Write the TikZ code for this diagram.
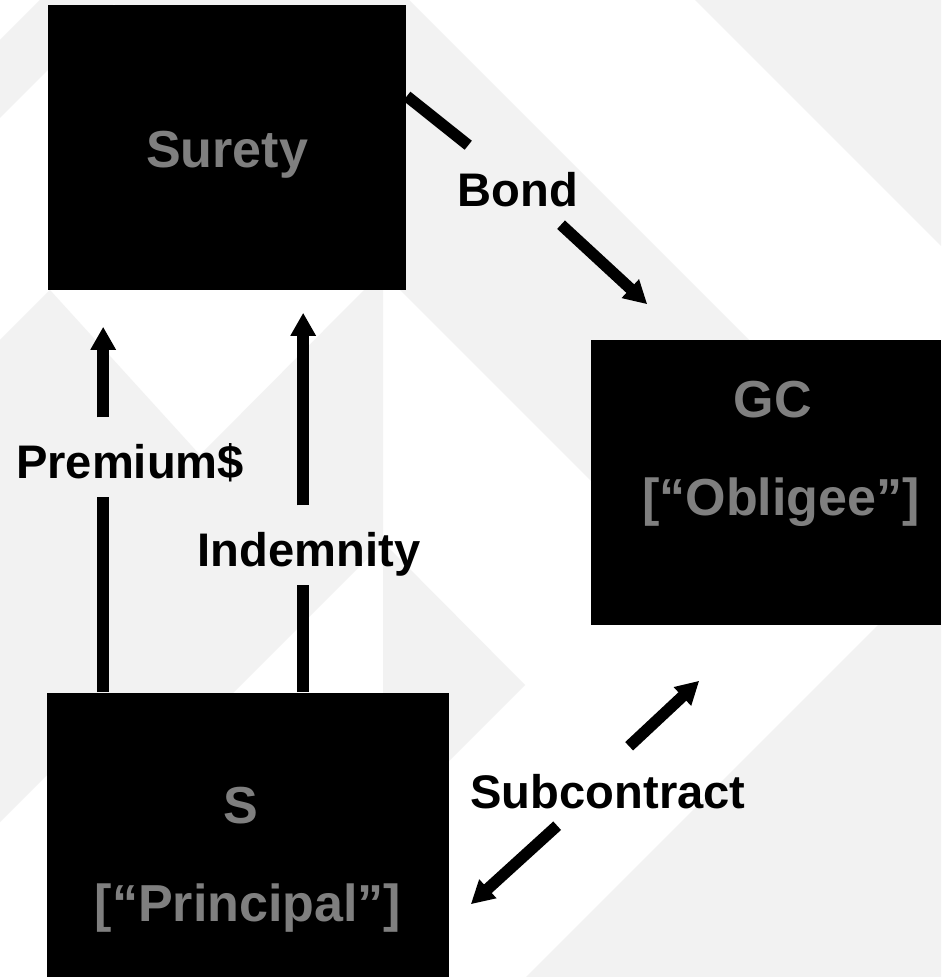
\documentclass[tikz,border=0pt]{standalone}
\usepackage{fontspec}
\setmainfont{Liberation Sans}
\usetikzlibrary{arrows.meta,calc,positioning}

\definecolor{bgpattern}{HTML}{F2F2F2}
\definecolor{nametext}{HTML}{7F7F7F}

\tikzset{
  partybox/.style={fill=black, inner sep=0pt, minimum height=2.85cm},
  partytext/.style={text=nametext, inner sep=0pt, anchor=base,
    font=\fontsize{14.8pt}{17pt}\selectfont\bfseries},
  flowtext/.style={anchor=base, inner xsep=0.05cm, inner ysep=0.09cm,
    text height=0.52cm, text depth=0.08cm,
    font=\fontsize{13.4pt}{16pt}\selectfont\bfseries},
  flowline/.style={line width=0.115cm},
  flowarrow/.style={flowline, -{Triangle[width=0.24cm,length=0.23cm]}}
}

\begin{document}
\begin{tikzpicture}[x=0.01cm, y=-0.01cm]
	\useasboundingbox (0,0) rectangle (941,977);
	\fill[white] (0,0) rectangle (941,977); % Hintergrund

	% helles Muster im Hintergrund
	\fill[bgpattern] (0,40) -- (40,0) -- (118,0) -- (0,118) -- cycle;
	\fill[bgpattern] (695,0) -- (941,0) -- (941,246) -- cycle;
	\fill[bgpattern] (110,0) -- (409,0) -- (780,371) -- (620,510) -- cycle;
	\fill[bgpattern] (941,562) -- (941,977) -- (526,977) -- cycle;
	\fill[bgpattern] (383,542) -- (525,685) -- (383,827) -- cycle;
	\fill[bgpattern] (0,340) -- (50,290) -- (200,455) -- (364,290) -- (383,290)
		-- (383,543) -- (233,693) -- (47,693) -- (47,775) -- (0,822) -- cycle;

	% Parteien
	\node[partybox, minimum width=3.58cm] (surety) at (227,147.5) {};
	\node[partybox, minimum width=3.50cm] (gc) at (766,482.5) {};
	\node[partybox, minimum width=4.02cm] (s) at (248,835.5) {};

	\node[partytext] (surety-name) at ($(surety.center)+(0,20.5)$) {Surety};
	\node[partytext] (gc-name) at ($(gc.center)+(7,-64.5)$) {GC};
	\node[partytext] (gc-role) at ($(gc.center)+(15,33.5)$) {[“Obligee”]};
	\node[partytext] (s-name) at ($(s.center)+(-7,-12.5)$) {S};
	\node[partytext] (s-role) at ($(s.center)+(0,85.5)$) {[“Principal”]};

	% Beschriftungen
	\node[flowtext] (bond) at (518,207) {Bond};
	\node[flowtext] (premium) at (130,479) {Premium\$};
	\node[flowtext] (indemnity) at (309,567) {Indemnity};
	\node[flowtext] (subcontract) at (608,808) {Subcontract};

	\coordinate (prem-foot) at ($(s.north west)+(57,0)$);
	\coordinate (indem-foot) at ($(s.north west)+(257,0)$);
	\coordinate (bond-foot) at ($(surety.north east)+(0,92)$);
	\coordinate (bond-tip) at ($(gc.north west)+(57,-35)$);
	\coordinate (sub-gc) at ($(gc.south west)+(109,55)$);
	\coordinate (sub-s) at ($(s.north east)+(21,212)$);

	% Pfeile
	\draw[flowline] (prem-foot) -- (prem-foot |- premium.south);
	\draw[flowarrow, shorten >=0.36cm] (prem-foot |- premium.north) -- (prem-foot |- surety.south);

	\draw[flowline] (indem-foot) -- (indem-foot |- indemnity.south);
	\draw[flowarrow, shorten >=0.22cm] (indem-foot |- indemnity.north) -- (indem-foot |- surety.south);

	\draw[flowline] (bond-foot) -- (bond);
	\draw[flowarrow] (bond) -- (bond-tip);

	\draw[flowarrow] (subcontract.62) -- (sub-gc);
	\draw[flowarrow] (subcontract.218) -- (sub-s);
\end{tikzpicture}
\end{document}
